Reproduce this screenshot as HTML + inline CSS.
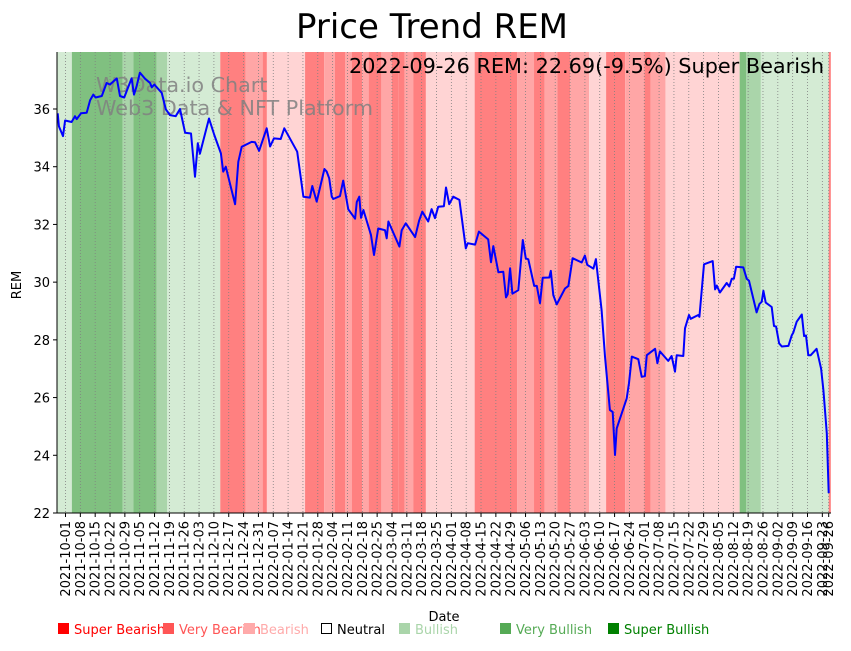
<!DOCTYPE html>
<html><head><meta charset="utf-8">
<style>
html,body{margin:0;padding:0;background:#fff;}
body{width:851px;height:646px;overflow:hidden;font-family:"Liberation Sans","DejaVu Sans",sans-serif;}
svg text{font-family:"DejaVu Sans","Liberation Sans",sans-serif;}
</style></head>
<body>
<svg id="chart" width="851" height="646" xmlns="http://www.w3.org/2000/svg">
<text x="432" y="38" font-size="34" text-anchor="middle" fill="#000">Price Trend REM</text>
<g id="bands"></g>
<g id="grid"></g>
<g>
<text x="96" y="92" font-size="20.7" fill="#808080" fill-opacity="0.85">W3Data.io Chart</text>
<text x="96" y="115" font-size="20.7" fill="#808080" fill-opacity="0.85">Web3 Data &amp; NFT Platform</text>
</g>
<path id="line" fill="none" stroke="#0000ff" stroke-width="2" stroke-linejoin="round"/>
<text x="824" y="73" font-size="20.8" text-anchor="end" fill="#000">2022-09-26 REM: 22.69(-9.5%) Super Bearish</text>
<g id="yaxis"></g>
<g id="xaxis"></g>
<line x1="57" y1="52" x2="57" y2="513" stroke="#000" stroke-width="1"/>
<line x1="57" y1="513" x2="831" y2="513" stroke="#000" stroke-width="1"/>
<text transform="translate(21,285) rotate(-90)" font-size="13" text-anchor="middle">REM</text>
<text x="444" y="621" font-size="13" text-anchor="middle">Date</text>
<g font-size="13">
<g><rect x="58" y="623" width="11" height="11" fill="#ff0000"/><text x="74" y="634" fill="#ff0000">Super Bearish</text></g>
<g><rect x="163" y="623" width="11" height="11" fill="#ff5555"/><text x="179" y="634" fill="#ff5555">Very Bearish</text></g>
<g><rect x="244" y="623" width="11" height="11" fill="#ffaaaa"/><text x="260" y="634" fill="#ffaaaa">Bearish</text></g>
<g><rect x="321.5" y="623.5" width="10" height="10" fill="none" stroke="#000"/><text x="337" y="634" fill="#000">Neutral</text></g>
<g><rect x="399" y="623" width="11" height="11" fill="#aad5aa"/><text x="415" y="634" fill="#aad5aa">Bullish</text></g>
<g><rect x="500" y="623" width="11" height="11" fill="#55aa55"/><text x="516" y="634" fill="#55aa55">Very Bullish</text></g>
<g><rect x="608" y="623" width="11" height="11" fill="#008000"/><text x="624" y="634" fill="#008000">Super Bullish</text></g>
</g>
</svg>
<script>
// band boundaries in days from 2021-10-01, and sentiment levels (-3..3)
const bandStarts = [-4,3,27,32,43,48,73,85,93,95,113,122,127,132,135,140,143,149,154,157,160,164,170,193,213,221,226,232,238,247,255,264,273,276,283,318,321,328,360];
const bandEnds   = [3,27,32,43,48,73,85,93,95,113,122,127,132,135,140,143,149,154,157,160,164,170,193,213,221,226,232,238,247,255,264,273,276,283,318,321,328,360,361];
const bandLevels = [1,3,2,3,2,1,-3,-2,-3,-1,-3,-2,-3,-2,-3,-2,-3,-2,-3,-3,-2,-3,-1,-3,-2,-3,-2,-3,-2,-1,-3,-2,-3,-2,-1,3,2,1,-3];
// price series: day offsets and values
const priceDays = [-3.7,-3.1,-1.2,-0.2,2.9,4.5,5.3,7.3,10,11.6,13.1,14.2,17.1,19.4,21,24.2,25.7,27.7,31.2,32.3,33.6,35.1,37.5,39.9,40.7,41.9,45.4,47.3,49.3,52,54,56.4,59.2,61.1,62.4,63.4,67.7,70.2,73.3,74.4,75.6,80,81.5,83.1,87.8,89.4,91.3,94.9,96.5,98.3,101.5,103.2,109.3,112.2,115.3,116.4,118.5,122.1,123.2,124.4,125.6,126.3,129.5,131.0,133.4,136.6,137.4,138.6,139.4,140.5,144.1,145.5,147.5,150.7,151.5,152.3,157.5,158.6,160.5,164.9,166.8,168.3,171.1,172.7,174.3,175.8,178.5,179.5,181.0,182.9,185.8,188.8,189.7,193.2,195.0,199.4,200.7,201.8,204.2,206.5,207.8,208.6,209.7,210.8,213.6,215.7,217.1,218.3,221.1,222.3,223.8,225.1,228.2,228.9,230.1,231.7,235.6,237.2,239.2,243.5,245.0,246.1,249.0,250.2,252.9,254.5,256.8,258.1,259.2,260.0,264.7,265.8,267.1,270.2,271.8,273.3,274.2,278.1,279.2,280.4,284.3,285.9,287.5,288.3,291.4,292.2,294.1,294.9,298.5,299.0,301.2,305.3,306.4,307.2,308.7,311.9,313.1,314.3,315.3,316.3,319.7,321.3,322.4,326.0,327.3,328.4,329.2,330.3,333.1,334.2,335.2,336.6,337.9,341.0,342.6,343.3,344.9,347.3,348.4,349.3,350.4,351.5,354.3,356.4,357.5,359.1,360];
const priceValues = [35.85,35.4,35.06,35.6,35.55,35.75,35.65,35.85,35.87,36.3,36.5,36.4,36.45,36.9,36.85,37.06,36.45,36.4,37.06,36.5,36.8,37.26,37.05,36.9,36.75,36.85,36.56,35.99,35.79,35.75,36.0,35.18,35.15,33.65,34.81,34.45,35.67,35.1,34.46,33.83,34.0,32.7,34.17,34.69,34.86,34.85,34.55,35.33,34.7,34.98,34.96,35.33,34.52,32.96,32.93,33.33,32.79,33.92,33.83,33.6,32.96,32.88,32.98,33.52,32.52,32.2,32.78,32.96,32.23,32.5,31.63,30.94,31.86,31.8,31.52,32.1,31.23,31.8,32.04,31.56,32.13,32.44,32.1,32.53,32.22,32.61,32.63,33.28,32.7,32.96,32.85,31.17,31.35,31.3,31.75,31.48,30.69,31.25,30.34,30.36,29.47,29.58,30.48,29.6,29.72,31.46,30.82,30.79,29.87,29.87,29.27,30.15,30.16,30.39,29.55,29.23,29.78,29.87,30.83,30.68,30.92,30.6,30.47,30.8,29.03,27.42,25.57,25.5,24.01,24.93,25.97,26.5,27.42,27.33,26.72,26.74,27.47,27.69,27.19,27.6,27.27,27.44,26.9,27.47,27.44,28.4,28.86,28.73,28.86,28.8,30.62,30.73,29.75,29.88,29.64,29.97,29.85,30.12,30.12,30.53,30.51,30.12,30.05,28.95,29.24,29.32,29.7,29.29,29.14,28.48,28.46,27.88,27.77,27.79,28.16,28.25,28.63,28.88,28.13,28.15,27.47,27.47,27.69,27.0,26.26,24.76,22.69];
const yTicks = [22,24,26,28,30,32,34,36];
const xTickDays = [0,7,14,21,28,35,42,49,56,63,70,77,84,91,98,105,112,119,126,133,140,147,154,161,168,175,182,189,196,203,210,217,224,231,238,245,252,259,266,273,280,287,294,301,308,315,322,329,336,343,350,357,360];

const NS='http://www.w3.org/2000/svg';
const L=57,R=831,T=52,B=513;
const X0=65.5, PXD=2.12;
function xs(d){return X0+d*PXD;}
function ys(v){return B-(v-22)*(404/14);}
const colors={'-3':'#ff8080','-2':'#ffa6a6','-1':'#ffd4d4','0':'#ffffff','1':'#d4ebd4','2':'#aad5aa','3':'#80c080'};
function mk(tag,attrs,parent){const e=document.createElementNS(NS,tag);for(const k in attrs)e.setAttribute(k,attrs[k]);parent.appendChild(e);return e;}
const bands=document.getElementById('bands');
for(let i=0;i<bandStarts.length;i++){
  const x1=Math.max(L,xs(bandStarts[i])), x2=Math.min(R,xs(bandEnds[i]));
  const r=mk('rect',{x:x1,y:T,width:Math.max(0,x2-x1),height:B-T,fill:colors[bandLevels[i]]},bands);
  
  
}
const base=new Date(Date.UTC(2021,9,1));
function fmt(d){const t=new Date(base.getTime()+d*86400000);return t.toISOString().slice(0,10);}
const grid=document.getElementById('grid'), xaxis=document.getElementById('xaxis');
xTickDays.forEach(d=>{
  const x=xs(d);
  const g=mk('line',{x1:x,y1:T,x2:x,y2:B,stroke:'#808080','stroke-width':0.8,'stroke-dasharray':'1,2'},grid);
  
  
  mk('line',{x1:x,y1:B,x2:x,y2:B+4,stroke:'#000'},xaxis);
  const t=mk('text',{transform:`translate(${x+4.5},${B+8}) rotate(-90)`,'font-size':13,'text-anchor':'end'},xaxis);
  
  
  t.textContent=fmt(d);
});
const yaxis=document.getElementById('yaxis');
yTicks.forEach(v=>{
  const y=ys(v);
  mk('line',{x1:L-4,y1:y,x2:L,y2:y,stroke:'#000'},yaxis);
  const t=mk('text',{x:L-7,y:y+5,'font-size':13,'text-anchor':'end'},yaxis);
  
  
  t.textContent=v;
});
let d='';
priceDays.forEach((dd,i)=>{d+=(i?'L':'M')+xs(dd).toFixed(1)+','+ys(priceValues[i]).toFixed(1);});
document.getElementById('line').setAttribute('d',d);
</script>
</body></html>
